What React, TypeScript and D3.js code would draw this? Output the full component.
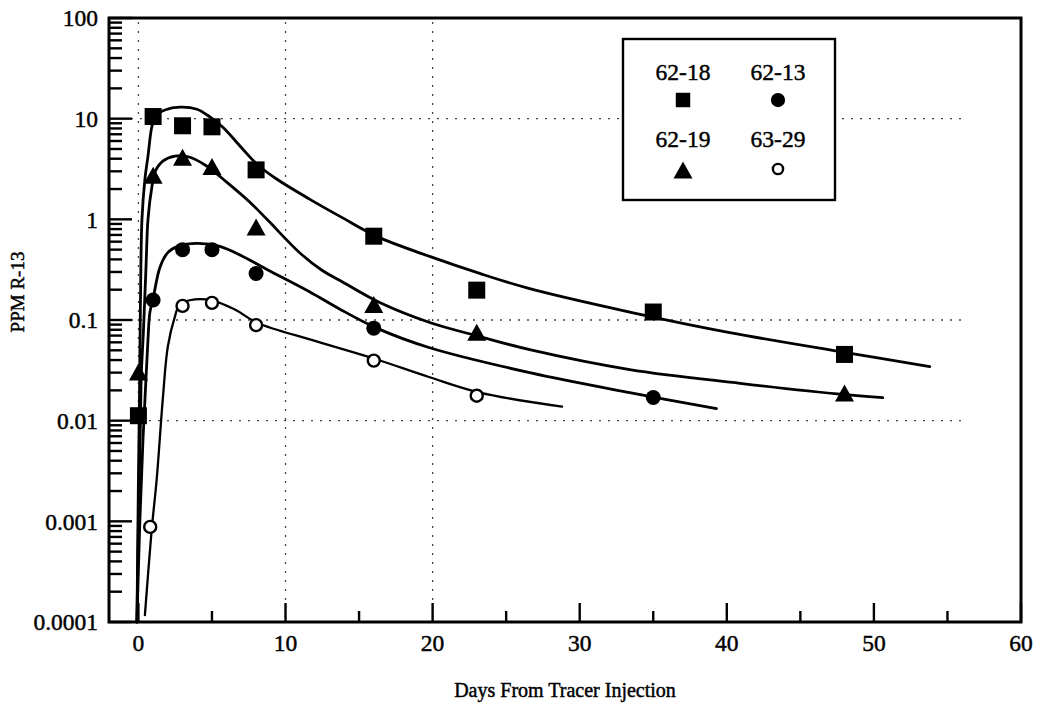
import React from "react";
import * as d3 from "d3";

// ---- data ----
const xTicksMajor = [0, 10, 20, 30, 40, 50, 60];
const xTicksMinor = [5, 15, 25, 35, 45, 55];
const yTicksMajor = [0.0001, 0.001, 0.01, 0.1, 1, 10, 100];
const yTickLabels = ["0.0001", "0.001", "0.01", "0.1", "1", "10", "100"];
const gridX = [0, 10, 20];
const gridY = [10, 0.1, 0.01];

// measured points
const s6218 = [
  [0, 0.0112], [1, 10.5], [3, 8.5], [5, 8.3], [8, 3.1], [16, 0.68], [23, 0.198], [35, 0.12], [48, 0.0455],
];
const s6219 = [
  [0, 0.029], [1, 2.62], [3, 3.96], [5, 3.2], [8, 0.8], [16, 0.136], [23, 0.072], [48, 0.018],
];
const s6213 = [
  [1, 0.158], [3, 0.5], [5, 0.5], [8, 0.29], [16, 0.083], [35, 0.017],
];
const s6329 = [
  [0.8, 0.00088], [3, 0.138], [5, 0.148], [8, 0.089], [16, 0.0395], [23, 0.0177],
];

// fitted curves
const c6218 = [
  [-0.1, 0.0001], [0.0, 0.0026], [0.07, 0.0162], [0.14, 0.16], [0.24, 1.0], [0.44, 2.5], [0.65, 4.24],
  [0.92, 8.4], [1.19, 10.8], [1.8, 12.2], [2.82, 13.0], [3.98, 12.4], [4.86, 10.4], [5.74, 8.2],
  [7.1, 4.97], [8.06, 3.53], [9.42, 2.5], [11.66, 1.58], [13.7, 1.07], [16.2, 0.677], [19.8, 0.428],
  [23.2, 0.29], [26.6, 0.205], [33.4, 0.12], [40.2, 0.075], [48.1, 0.0475], [53.8, 0.0345],
];
const c6219 = [
  [-0.1, 0.0001], [0.03, 0.00164], [0.14, 0.0102], [0.2, 0.03], [0.33, 0.0718], [0.51, 0.318],
  [0.65, 1.0], [0.92, 2.13], [1.12, 2.94], [1.66, 3.78], [2.48, 4.24], [3.5, 4.14], [4.66, 3.37],
  [6.02, 2.33], [7.58, 1.48], [8.74, 1.0], [11.0, 0.46], [12.5, 0.31], [13.7, 0.247], [16.4, 0.149],
  [19.8, 0.0944], [23.2, 0.0685], [26.6, 0.0508], [33.4, 0.0322], [40.9, 0.0235], [48.1, 0.0181],
  [50.6, 0.0169],
];
const c6213 = [
  [-0.1, 0.0001], [0.1, 0.00103], [0.31, 0.00647], [0.51, 0.0256], [0.65, 0.064], [0.78, 0.119],
  [0.99, 0.16], [1.46, 0.333], [2.01, 0.47], [2.69, 0.539], [3.98, 0.577], [5.54, 0.539], [7.1, 0.428],
  [8.74, 0.318], [11.66, 0.19], [13.7, 0.128], [16.2, 0.083], [19.8, 0.053], [26.6, 0.03],
  [33.4, 0.019], [39.3, 0.0132],
];
const c6329 = [
  [0.44, 0.000117], [0.9, 0.00082], [1.24, 0.00259], [1.67, 0.0173], [2.0, 0.0545], [2.48, 0.108],
  [2.82, 0.143], [3.84, 0.16], [5.06, 0.156], [6.56, 0.127], [8.06, 0.094], [12.0, 0.062],
  [16.1, 0.041], [19.8, 0.027], [23.2, 0.019], [28.8, 0.0138],
];

const legendItems = [
  { label: "62-18", shape: "square" },
  { label: "62-13", shape: "circle" },
  { label: "62-19", shape: "triangle" },
  { label: "63-29", shape: "open" },
];

const FONT = "'Liberation Serif', 'Times New Roman', serif";

function Marker({ shape, cx, cy, scale = 1 }: { shape: string; cx: number; cy: number; scale?: number }) {
  if (shape === "square") {
    const s = 17 * scale;
    return <rect x={cx - s / 2} y={cy - s / 2} width={s} height={s} fill="#000" />;
  }
  if (shape === "circle") {
    return <circle cx={cx} cy={cy} r={7.5 * scale} fill="#000" />;
  }
  if (shape === "triangle") {
    const w = 19 * scale;
    const h = 17 * scale;
    return (
      <path
        d={`M${cx},${cy - h * 0.62}L${cx + w / 2},${cy + h * 0.38}L${cx - w / 2},${cy + h * 0.38}Z`}
        fill="#000"
      />
    );
  }
  return <circle cx={cx} cy={cy} r={6 * scale} fill="#fff" stroke="#000" strokeWidth={2.4} />;
}

export default function App() {
  const W = 1042;
  const H = 706;
  const left = 109;
  const right = 1021;
  const top = 18;
  const bottom = 622;
  const x = d3.scaleLinear().domain([-2, 60]).range([left, right]);
  const y = d3.scaleLog().domain([0.0001, 100]).range([bottom, top]);

  const line = d3
    .line<number[]>()
    .x((d) => x(d[0]))
    .y((d) => y(d[1]))
    .curve(d3.curveCatmullRom.alpha(0.5));

  const minorY: number[] = [];
  for (let e = -4; e < 2; e++) {
    for (let k = 2; k <= 9; k++) minorY.push(k * Math.pow(10, e));
  }

  const curves = [
    { data: c6218, w: 2.8 },
    { data: c6219, w: 2.8 },
    { data: c6213, w: 2.8 },
    { data: c6329, w: 2.3 },
  ];

  const lx0 = 683;
  const lx1 = 778;
  const textStroke = { stroke: "#000", strokeWidth: 0.45 };

  return (
    <svg
      width={W}
      height={H}
      style={{ position: "absolute", left: 0, top: 0, background: "#fff" }}
      fontFamily={FONT}
    >
      <rect x={0} y={0} width={W} height={H} fill="#fff" />
      {/* grid */}
      <g stroke="#444" strokeWidth={1.3} strokeDasharray="2 7" fill="none">
        {gridX.map((g) => (
          <line key={"gx" + g} x1={x(g)} x2={x(g)} y1={top + 4} y2={bottom - 4} />
        ))}
        {gridY.map((g) => (
          <line key={"gy" + g} x1={left + 4} x2={right - 60} y1={y(g)} y2={y(g)} />
        ))}
      </g>
      {/* ticks */}
      <g stroke="#000" strokeWidth={2.4}>
        {yTicksMajor.map((t) => (
          <line key={"ym" + t} x1={left} x2={left + 23} y1={y(t)} y2={y(t)} />
        ))}
        {minorY.map((t) => (
          <line key={"yn" + t} x1={left} x2={left + 13} y1={y(t)} y2={y(t)} />
        ))}
        {xTicksMajor.map((t) => (
          <line key={"xm" + t} x1={x(t)} x2={x(t)} y1={bottom} y2={bottom - 19} />
        ))}
        {xTicksMinor.map((t) => (
          <line key={"xn" + t} x1={x(t)} x2={x(t)} y1={bottom} y2={bottom - 11} />
        ))}
      </g>
      {/* curves */}
      <g fill="none" stroke="#000" strokeLinecap="round" strokeLinejoin="round">
        {curves.map((c, i) => (
          <path key={"c" + i} d={line(c.data) || ""} strokeWidth={c.w} />
        ))}
      </g>
      {/* points */}
      {s6218.map((d, i) => (
        <Marker key={"a" + i} shape="square" cx={x(d[0])} cy={y(d[1])} />
      ))}
      {s6219.map((d, i) => (
        <Marker key={"b" + i} shape="triangle" cx={x(d[0])} cy={y(d[1])} />
      ))}
      {s6213.map((d, i) => (
        <Marker key={"c" + i} shape="circle" cx={x(d[0])} cy={y(d[1])} />
      ))}
      {s6329.map((d, i) => (
        <Marker key={"d" + i} shape="open" cx={x(d[0])} cy={y(d[1])} />
      ))}
      {/* frame */}
      <rect x={left} y={top} width={right - left} height={bottom - top} fill="none" stroke="#000" strokeWidth={3} />
      {/* y tick labels */}
      <g fontSize={23.5} textAnchor="end" fill="#000" {...textStroke}>
        {yTicksMajor.map((t, i) => (
          <text key={"yl" + t} x={98} y={y(t)} dy="0.35em">
            {yTickLabels[i]}
          </text>
        ))}
      </g>
      {/* x tick labels */}
      <g fontSize={23.5} textAnchor="middle" fill="#000" {...textStroke}>
        {xTicksMajor.map((t) => (
          <text key={"xl" + t} x={x(t)} y={651}>
            {t}
          </text>
        ))}
      </g>
      <text x={565} y={697} fontSize={20} textAnchor="middle" {...textStroke}>
        Days From Tracer Injection
      </text>
      <text transform="translate(24,292) rotate(-90)" fontSize={19} textAnchor="middle" {...textStroke}>
        PPM R-13
      </text>
      {/* legend */}
      <rect x={623} y={39} width={212} height={161} fill="#fff" stroke="#000" strokeWidth={2.4} />
      <g fontSize={23.5} textAnchor="middle" {...textStroke}>
        <text x={lx0} y={80}>{legendItems[0].label}</text>
        <text x={lx1} y={80}>{legendItems[1].label}</text>
        <text x={lx0} y={147}>{legendItems[2].label}</text>
        <text x={lx1} y={147}>{legendItems[3].label}</text>
      </g>
      <Marker shape={legendItems[0].shape} cx={lx0} cy={100} scale={0.85} />
      <Marker shape={legendItems[1].shape} cx={lx1} cy={100} scale={0.95} />
      <Marker shape={legendItems[2].shape} cx={lx0} cy={172} scale={1.0} />
      <Marker shape={legendItems[3].shape} cx={lx1} cy={169} scale={0.85} />
    </svg>
  );
}
